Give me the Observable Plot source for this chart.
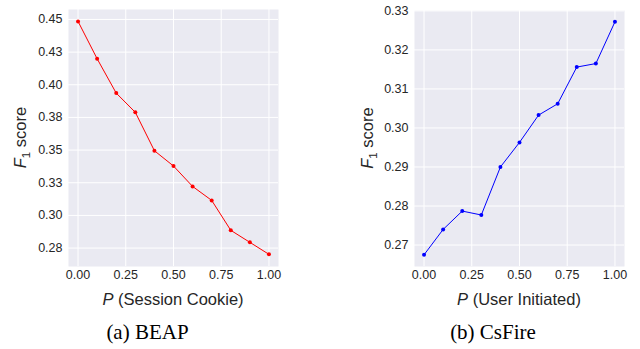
<!DOCTYPE html>
<html><head><meta charset="utf-8">
<script src="https://cdn.jsdelivr.net/npm/d3@7"></script>
<script src="https://cdn.jsdelivr.net/npm/@observablehq/plot@0.6"></script>
<style>
body{margin:0;background:#fff;}
#fig{position:relative;width:640px;height:349px;overflow:hidden;}
.panel{position:absolute;top:0;}
.cap{position:absolute;top:322px;font-family:"Liberation Serif","Times New Roman",serif;font-size:21px;line-height:21px;color:#000;text-align:center;width:200px;white-space:nowrap;}
</style></head><body>
<div id="fig">
  <div id="left" class="panel" style="left:0px"></div>
  <div id="right" class="panel" style="left:320px"></div>
  <div class="cap" id="capA" style="left:47.5px"></div>
  <div class="cap" id="capB" style="left:393px"></div>
</div>
<script>
// ---- data ----
const pValues = [0.0, 0.1, 0.2, 0.3, 0.4, 0.5, 0.6, 0.7, 0.8, 0.9, 1.0];
const beapF1 = [0.4485, 0.4199, 0.3936, 0.3789, 0.3495, 0.3378, 0.3222, 0.3115, 0.2886, 0.2794, 0.2702];
const csfireF1 = [0.2675, 0.2740, 0.2787, 0.2777, 0.2900, 0.2963, 0.3033, 0.3062, 0.3156, 0.3165, 0.3272];
const xTicks = [0, 0.25, 0.5, 0.75, 1.0];
const xTickLabels = ["0.00", "0.25", "0.50", "0.75", "1.00"];
const beapYTicks = [0.275, 0.3, 0.325, 0.35, 0.375, 0.4, 0.425, 0.45];
const beapYTickLabels = ["0.28", "0.30", "0.33", "0.35", "0.38", "0.40", "0.43", "0.45"];
const csfireYTicks = [0.27, 0.28, 0.29, 0.30, 0.31, 0.32, 0.33];
const csfireYTickLabels = ["0.27", "0.28", "0.29", "0.30", "0.31", "0.32", "0.33"];
const xLabels = ["(Session Cookie)", "(User Initiated)"];
const captions = ["(a) BEAP", "(b) CsFire"];

function makePanel(opts) {
  const rows = pValues.map((p, i) => ({p, f1: opts.values[i]}));
  const W = 320, H = 312;
  const chart = Plot.plot({
    width: W, height: H,
    marginLeft: opts.ml, marginRight: opts.mr, marginTop: opts.mt, marginBottom: 46,
    style: {background: "transparent", fontFamily: "'Liberation Sans', Arial, sans-serif", fontSize: "12.5px", color: "#262626", overflow: "visible"},
    x: {domain: [-0.05, 1.05], ticks: xTicks, tickFormat: d => xTickLabels[xTicks.indexOf(d)], tickSize: 0, tickPadding: 4, label: null},
    y: {domain: opts.yDomain, ticks: opts.yTicks, tickFormat: d => opts.yLabels[opts.yTicks.indexOf(d)], tickSize: 0, tickPadding: 6, label: null},
    marks: [
      Plot.frame({fill: "#EAEAF2", stroke: null}),
      Plot.gridX(xTicks, {stroke: "white", strokeOpacity: 1, strokeWidth: 1}),
      Plot.gridY(opts.yTicks, {stroke: "white", strokeOpacity: 1, strokeWidth: 1}),
      Plot.line(rows, {x: "p", y: "f1", stroke: opts.color, strokeWidth: 1}),
      Plot.dot(rows, {x: "p", y: "f1", fill: opts.color, stroke: null, r: 2})
    ]
  });
  const svg = d3.select(chart);
  const cx = opts.ml + (W - opts.ml - opts.mr) / 2;
  const cy = opts.mt + (H - opts.mt - 46) / 2;
  // x-axis label
  const xl = svg.append("text")
    .attr("x", cx).attr("y", 305)
    .attr("text-anchor", "middle")
    .attr("font-family", "'Liberation Sans', Arial, sans-serif")
    .attr("font-size", 16.5).attr("fill", "#262626");
  xl.append("tspan").attr("font-style", "italic").text("P");
  xl.append("tspan").text(" " + opts.xLabel);
  // y-axis label
  const yl = svg.append("text")
    .attr("transform", `translate(${opts.ylx},${cy}) rotate(-90)`)
    .attr("text-anchor", "middle")
    .attr("font-family", "'Liberation Sans', Arial, sans-serif")
    .attr("font-size", 16.5).attr("fill", "#262626");
  yl.append("tspan").attr("font-style", "italic").text("F");
  yl.append("tspan").attr("font-size", 11.5).attr("dy", 3.5).text("1");
  yl.append("tspan").attr("dy", -3.5).text(" score");
  return chart;
}

document.getElementById("left").appendChild(makePanel({
  values: beapF1, color: "#ff0000", yDomain: [0.2609, 0.4576],
  yTicks: beapYTicks, yLabels: beapYTickLabels, ml: 68, mr: 42, mt: 9, xLabel: xLabels[0], ylx: 26
}));
document.getElementById("right").appendChild(makePanel({
  values: csfireF1, color: "#0000ff", yDomain: [0.2645, 0.3301],
  yTicks: csfireYTicks, yLabels: csfireYTickLabels, ml: 94, mr: 16, mt: 10, xLabel: xLabels[1], ylx: 53
}));
document.getElementById("capA").textContent = captions[0];
document.getElementById("capB").textContent = captions[1];
</script>
</body></html>
